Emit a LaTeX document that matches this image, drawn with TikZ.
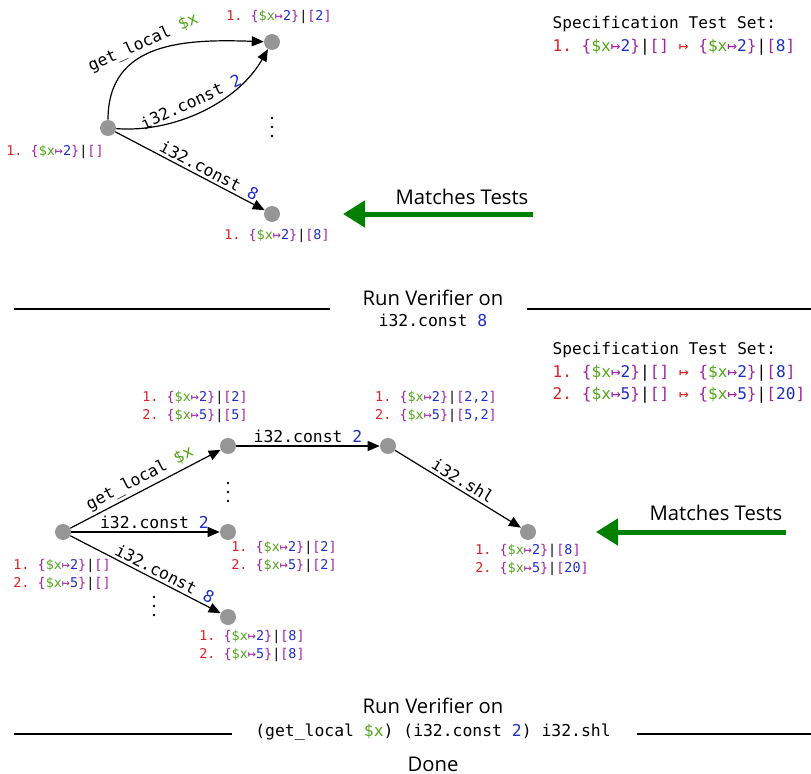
\documentclass[tikz,border=0pt]{standalone}
\usepackage{fontspec}
\setsansfont{Open Sans}
\setmonofont{DejaVu Sans Mono}
\usetikzlibrary{arrows.meta}

\definecolor{numred}{RGB}{225,30,35}
\definecolor{brpurple}{RGB}{160,35,165}
\definecolor{vargreen}{RGB}{80,165,25}
\definecolor{valblue}{RGB}{30,45,200}
\definecolor{stategray}{RGB}{150,150,150}
\definecolor{okgreen}{RGB}{0,128,0}

% pieces of a machine configuration: index, locals, stack
\newcommand{\tnum}[1]{\textcolor{numred}{#1.}\ }
\newcommand{\tenv}[1]{\textcolor{brpurple}{\{}\textcolor{vargreen}{\$x}\textcolor{brpurple}{↦}\textcolor{valblue}{#1}\textcolor{brpurple}{\}}}
\newcommand{\tstk}[1]{\textcolor{brpurple}{[}\textcolor{valblue}{#1}\textcolor{brpurple}{]}}
\newcommand{\tcfg}[3]{\tnum{#1}\tenv{#2}|\tstk{#3}}
\newcommand{\tmap}{\ \textcolor{numred}{↦}\ }

\begin{document}
\begin{tikzpicture}[x=0.75pt,y=0.75pt,
  state/.style={circle,fill=stategray,minimum size=12pt,inner sep=0pt},
  edge/.style={-{Triangle[length=9pt,width=7.5pt]},line width=0.9pt},
  elab/.style={font=\ttfamily\fontsize{12.3}{14}\selectfont,sloped,above,inner sep=2pt},
  ann/.style={font=\ttfamily\fontsize{10.1}{13.5}\selectfont,align=left,inner sep=0pt},
  spec/.style={font=\ttfamily\fontsize{12.1}{16.9}\selectfont,align=left,inner sep=0pt},
  big/.style={font=\sffamily\fontsize{15.2}{17}\selectfont,inner sep=0pt},
  code/.style={font=\ttfamily\fontsize{12.3}{14}\selectfont,inner sep=0pt},
  rule/.style={line width=1pt},
  hint/.style={-{Triangle[length=16.5pt,width=19.5pt]},line width=3.75pt,draw=okgreen},
  dot/.style={fill=black}]
\useasboundingbox (0,0) rectangle (811,-774);

% ---------- first search: single test ----------
\node[state] (a0) at (108,-128) {};
\node[state] (a1) at (272,-42) {};
\node[state] (a2) at (272,-214) {};
\foreach \dy in {-9,0,9} \fill[dot] (272,-127+\dy) circle (1.1pt);

\node[ann] (a0t) at (55,-152) {\tcfg{1}{2}{}};
\node[ann] (a1t) at (279,-17) {\tcfg{1}{2}{2}};
\node[ann] (a2t) at (277,-236) {\tcfg{1}{2}{8}};

\draw[edge] (a0) to[out=90,in=178,looseness=1.15]
  node[elab,pos=0.45] {get\_local \textcolor{vargreen}{\$x}} (a1);
\draw[edge] (a0) .. controls (175,-133) and (238,-102) ..
  node[elab,pos=0.46,inner sep=4.5pt] {i32.const \textcolor{valblue}{2}} (a1);
\draw[edge] (a0) -- node[elab,pos=0.6] {i32.const \textcolor{valblue}{8}} (a2);

\node[spec] (spec1) at (674,-36) {Specification Test Set:\\
  \tnum{1}\tenv{2}|\tstk{}\tmap\tenv{2}|\tstk{8}};

\node[big] (match1) at (462,-197) {Matches Tests};
\coordinate (h1s) at (533,-214);
\coordinate (h1e) at (343,-214);
\draw[hint] (h1s) -- (h1e);

% ---------- first verifier run ----------
\node[big] (run1) at (433,-298) {Run Verifier on};
\node[code] (run1c) at (433,-320) {i32.const \textcolor{valblue}{8}};
\coordinate (r1a) at (14,-309);
\coordinate (r1b) at (330,-309);
\coordinate (r1c) at (527,-309);
\coordinate (r1d) at (811,-309);
\draw[rule] (r1a) -- (r1b);
\draw[rule] (r1c) -- (r1d);

% ---------- second search: two tests ----------
\node[state] (b0) at (63,-532) {};
\node[state] (b1) at (228,-446) {};
\node[state] (b2) at (228,-532) {};
\node[state] (b3) at (228,-617) {};
\node[state] (b4) at (388,-446) {};
\node[state] (b5) at (528,-532) {};
\foreach \dy in {-9,0,9} \fill[dot] (228,-492+\dy) circle (1.1pt);
\foreach \dy in {-9,0,9} \fill[dot] (154,-606+\dy) circle (1.1pt);

\node[ann] (b0t) at (62,-575) {\tcfg{1}{2}{}\\\tcfg{2}{5}{}};
\node[ann] (b1t) at (195,-407) {\tcfg{1}{2}{2}\\\tcfg{2}{5}{5}};
\node[ann] (b2t) at (284,-557) {\tcfg{1}{2}{2}\\\tcfg{2}{5}{2}};
\node[ann] (b3t) at (252,-646) {\tcfg{1}{2}{8}\\\tcfg{2}{5}{8}};
\node[ann] (b4t) at (436,-407) {\tcfg{1}{2}{2,2}\\\tcfg{2}{5}{5,2}};
\node[ann] (b5t) at (532,-560) {\tcfg{1}{2}{8}\\\tcfg{2}{5}{20}};

\draw[edge] (b0) -- node[elab,pos=0.5] {get\_local \textcolor{vargreen}{\$x}} (b1);
\draw[edge] (b0) -- node[elab,pos=0.56] {i32.const \textcolor{valblue}{2}} (b2);
\draw[edge] (b0) -- node[elab,pos=0.6] {i32.const \textcolor{valblue}{8}} (b3);
\draw[edge] (b1) -- node[elab,pos=0.5] {i32.const \textcolor{valblue}{2}} (b4);
\draw[edge] (b4) -- node[elab,pos=0.5] {i32.shl} (b5);

\node[spec] (spec2) at (679,-373) {Specification Test Set:\\
  \tnum{1}\tenv{2}|\tstk{}\tmap\tenv{2}|\tstk{8}\\
  \tnum{2}\tenv{5}|\tstk{}\tmap\tenv{5}|\tstk{20}};

\node[big] (match2) at (716,-513) {Matches Tests};
\coordinate (h2s) at (786,-532);
\coordinate (h2e) at (596,-532);
\draw[hint] (h2s) -- (h2e);

% ---------- second verifier run ----------
\node[big] (run2) at (433,-706) {Run Verifier on};
\node[code] (run2c) at (433,-732) {(get\_local \textcolor{vargreen}{\$x}) (i32.const \textcolor{valblue}{2}) i32.shl};
\coordinate (r2a) at (14,-734);
\coordinate (r2b) at (232,-734);
\coordinate (r2c) at (637,-734);
\coordinate (r2d) at (811,-734);
\draw[rule] (r2a) -- (r2b);
\draw[rule] (r2c) -- (r2d);
\node[big] (done) at (433,-764) {Done};
\end{tikzpicture}
\end{document}
